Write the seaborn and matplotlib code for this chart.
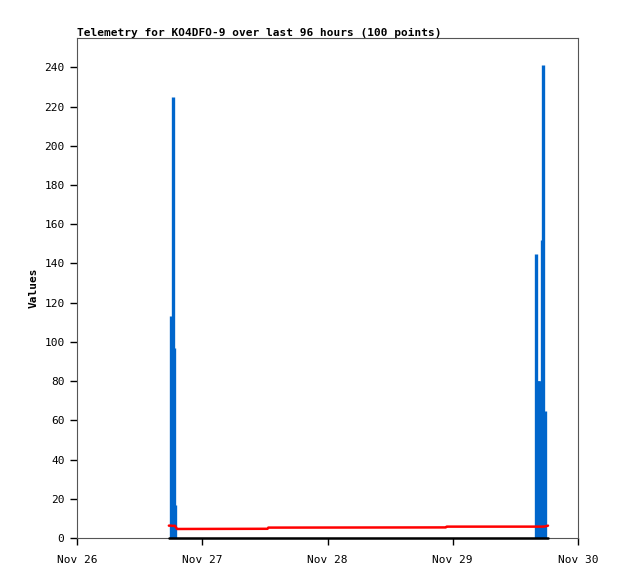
import pandas as pd
import numpy as np
import matplotlib
matplotlib.use("Agg")
import matplotlib.pyplot as plt
import matplotlib.dates as mdates
import seaborn as sns

# readings (timestamps)
times = ["2023-11-26 17:36", "2023-11-26 18:00", "2023-11-26 18:18", "2023-11-26 18:35",
         "2023-11-26 18:47", "2023-11-26 19:10", "2023-11-27 12:30", "2023-11-27 12:40",
         "2023-11-28 22:40", "2023-11-28 22:50", "2023-11-29 16:00", "2023-11-29 16:10",
         "2023-11-29 16:20", "2023-11-29 16:30", "2023-11-29 16:40", "2023-11-29 16:52",
         "2023-11-29 17:06", "2023-11-29 17:20", "2023-11-29 17:38", "2023-11-29 18:15"]
blue_vals = [0, 113, 225, 97, 17, 0, 0, 0, 0, 0, 145, 80, 80, 80, 80, 40, 152, 241, 65, 0]
red_vals = [6.3, 6.3, 6.2, 6.2, 6.2, 4.6, 4.7, 5.3, 5.4, 5.8, 5.8, 5.8, 5.8, 5.8, 5.8, 5.8,
            5.8, 5.8, 5.9, 6.3]
black_vals = [0] * len(times)

df = pd.DataFrame({"time": pd.to_datetime(times), "blue": blue_vals,
                   "red": red_vals, "black": black_vals})

sns.set_style("ticks")
plt.rcParams["font.family"] = ["DejaVu Sans Mono"]
plt.rcParams["text.color"] = "black"
plt.rcParams["axes.labelcolor"] = "black"
plt.rcParams["xtick.color"] = "black"
plt.rcParams["ytick.color"] = "black"

fig = plt.figure(figsize=(6.18, 5.79), dpi=100)
ax = fig.add_axes([77/618, 1 - 538/579, 501/618, 500/579])

ax.vlines(df["time"], 0, df["blue"], color="#0066cc", lw=2.4, zorder=2)
sns.lineplot(data=df, x="time", y="red", color="#ff0000", lw=1.8, ax=ax, zorder=3)
sns.lineplot(data=df, x="time", y="black", color="#000000", lw=1.8, ax=ax, zorder=4,
             clip_on=False)

ax.set_xlim(pd.Timestamp("2023-11-26"), pd.Timestamp("2023-11-30"))
ax.set_ylim(0, 255)
ax.set_yticks(range(0, 241, 20))
ax.xaxis.set_major_locator(mdates.DayLocator())
ax.xaxis.set_major_formatter(mdates.DateFormatter("%b %d"))

ax.tick_params(axis="both", labelsize=8, length=5, width=1, pad=4)
ax.tick_params(axis="x", pad=7)
for s in ax.spines.values():
    s.set_color("#555555")
    s.set_linewidth(0.8)

ax.set_xlabel("")
ax.set_ylabel("Values", fontsize=8, fontweight="bold", labelpad=4)
ax.set_title("Telemetry for KO4DFO-9 over last 96 hours (100 points)",
             loc="left", fontsize=8, fontweight="bold", pad=1)

fig.savefig("out.png", dpi=100)
